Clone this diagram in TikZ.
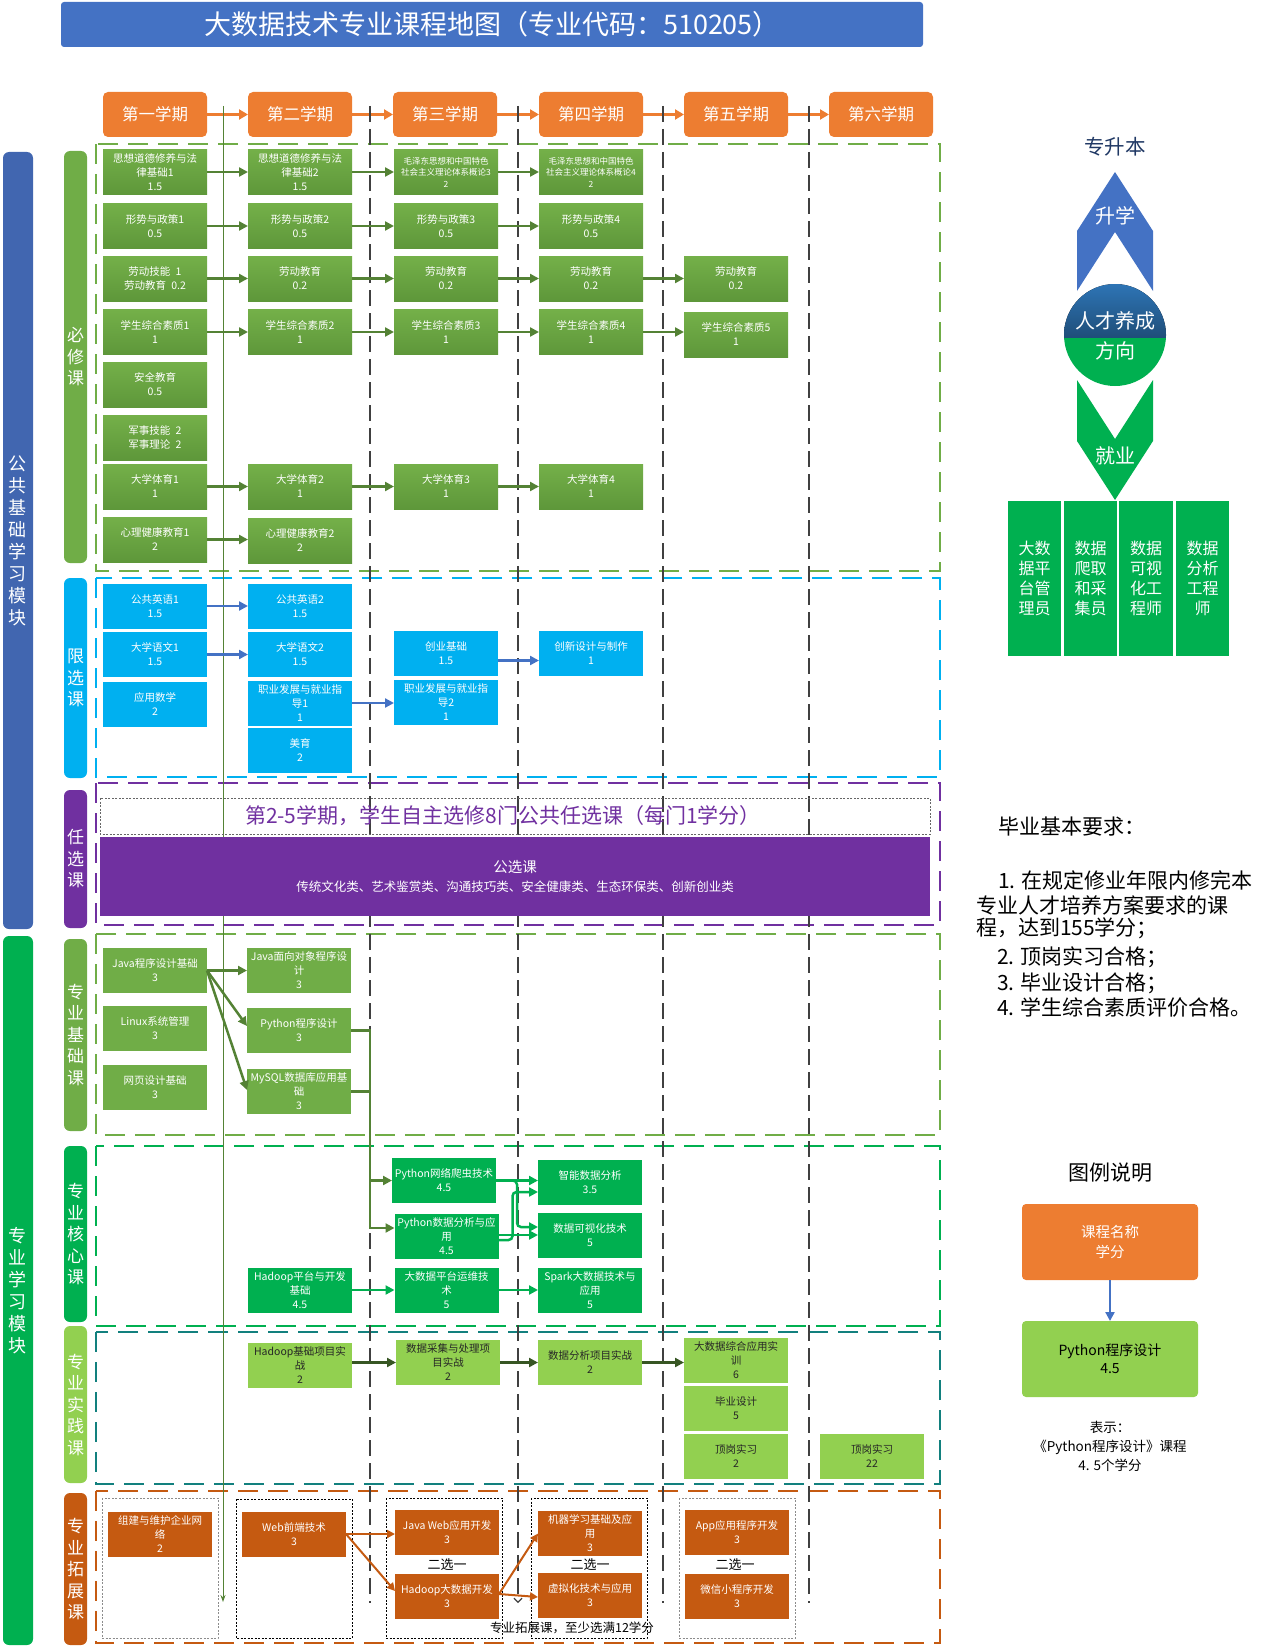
\documentclass[tikz,border=0pt]{standalone}
\usepackage{fontspec}
\setmainfont{Noto Sans CJK SC}
\usetikzlibrary{arrows.meta,calc}
\definecolor{titleB}{HTML}{4472C4}
\definecolor{semO}{HTML}{ED7D31}
\definecolor{gA}{HTML}{74B049}
\definecolor{gB}{HTML}{5E973A}
\definecolor{bxG}{HTML}{70AD47}
\definecolor{arrG}{HTML}{548235}
\definecolor{coreG}{HTML}{00B050}
\definecolor{lightG}{HTML}{92D050}
\definecolor{cyanC}{HTML}{00B0F0}
\definecolor{purpC}{HTML}{7030A0}
\definecolor{orngC}{HTML}{C55A11}
\definecolor{tealC}{HTML}{12807E}
\definecolor{modB}{HTML}{4166B0}
\definecolor{darkP}{HTML}{375623}
\definecolor{navyT}{HTML}{203864}
\definecolor{cirA}{HTML}{2E75B6}
\definecolor{cirB}{HTML}{1F4E79}
\newcommand{\fs}[2]{\fontsize{#1pt}{#2pt}\selectfont}
\begin{document}
\begin{tikzpicture}[x=1pt,y=-1pt,
  every node/.style={inner sep=0pt, outer sep=0pt},
  cbox/.style={minimum width=104pt, minimum height=45pt, align=center, text=white, font=\fs{10.5}{14}},
  gbox/.style={cbox, top color=gA, bottom color=gB},
  bbox/.style={cbox, fill=cyanC},
  fbox/.style={cbox, fill=bxG},
  kbox/.style={cbox, fill=coreG},
  pbox/.style={cbox, fill=lightG, text=black!85},
  obox/.style={cbox, fill=orngC},
  semb/.style={rounded corners=5pt, fill=semO, minimum width=104pt, minimum height=45pt, text=white, font=\fs{16.5}{18}},
  modbar/.style={rounded corners=6pt, minimum width=30pt, align=center, text=white, font=\fs{18}{22}},
  labbar/.style={rounded corners=6pt, minimum width=23pt, align=center, text=white, font=\fs{17}{21.5}},
  region/.style={line width=1.5pt, dash pattern=on 20pt off 10pt},
  vdash/.style={draw=black!75, line width=1.2pt, dash pattern=on 16pt off 7pt},
  grp/.style={line width=0.8pt, dash pattern=on 2pt off 1.5pt},
  tip/.style={-{Triangle[length=9pt,width=9pt]}},
  garr/.style={draw=arrG, line width=2.5pt, tip},
  barr/.style={draw=titleB, line width=2.5pt, tip},
  karr/.style={draw=coreG, line width=2.5pt, tip},
  parr/.style={draw=darkP, line width=3pt, tip},
  oarr/.style={draw=orngC, line width=2pt, -{Triangle[length=8pt,width=8pt]}},
  sarr/.style={draw=semO, line width=3pt, -{Triangle[length=9pt,width=10pt]}},
  plain/.style={font=\fs{13}{18}, text=black, align=center}
]
\useasboundingbox (0,0) rectangle (1269,1648);

% ---------- title ----------
\node[fill=titleB, rounded corners=3pt, minimum width=862pt, minimum height=45pt, text=white, font=\fs{27}{30}] (title) at (492,24.5) {大数据技术专业课程地图（专业代码：510205）};

% ---------- semesters ----------
\node[semb] (s1) at (155,114.5) {第一学期};
\node[semb] (s2) at (300,114.5) {第二学期};
\node[semb] (s3) at (445,114.5) {第三学期};
\node[semb] (s4) at (591,114.5) {第四学期};
\node[semb] (s5) at (736,114.5) {第五学期};
\node[semb] (s6) at (881,114.5) {第六学期};
\foreach \a/\b in {s1/s2,s2/s3,s3/s4,s4/s5,s5/s6} \draw[sarr] (\a.east) -- (\b.west);

% ---------- module bars ----------
\node[modbar, fill=modB, minimum height=777pt] (mod1) at (18,540.5) {公\\共\\基\\础\\学\\习\\模\\块};
\node[modbar, fill=coreG, minimum height=709pt] (mod2) at (18,1290.5) {专\\业\\学\\习\\模\\块};

\node[labbar, fill=bxG, minimum height=412pt] (lb1) at (75.5,357) {必\\修\\课};
\node[labbar, fill=cyanC, minimum height=200pt] (lb2) at (75.5,678) {限\\选\\课};
\node[labbar, fill=purpC, minimum height=138pt] (lb3) at (75.5,859) {任\\选\\课};
\node[labbar, fill=bxG, minimum height=192pt] (lb4) at (75.5,1035) {专\\业\\基\\础\\课};
\node[labbar, fill=coreG, minimum height=176pt] (lb5) at (75.5,1234) {专\\业\\核\\心\\课};
\node[labbar, fill=lightG, minimum height=157pt] (lb6) at (75.5,1404.5) {专\\业\\实\\践\\课};
\node[labbar, fill=orngC, minimum height=152pt] (lb7) at (75.5,1569) {专\\业\\拓\\展\\课};

% ---------- region frames ----------
\draw[region, draw=bxG] (96,144) rectangle (940,571);
\draw[region, draw=cyanC] (96,578) rectangle (940,777);
\draw[region, draw=purpC] (96,783) rectangle (940,925);
\draw[region, draw=bxG] (96,934) rectangle (940,1135);
\draw[region, draw=coreG] (96,1146) rectangle (940,1326);
\draw[region, draw=tealC] (96,1332) rectangle (940,1484);
\draw[region, draw=orngC] (96,1491) rectangle (940,1643);

% ---------- extension groups ----------
\draw[grp, draw=black!45] (102,1498) rectangle (218,1638);
\draw[grp, draw=black] (236,1499) rectangle (352,1638);
\draw[grp, draw=black] (386,1498) rectangle (502,1638);
\draw[grp, draw=black] (531,1498) rectangle (647,1638);
\draw[grp, draw=black!45] (679,1498) rectangle (795,1638);

% ---------- semester divider lines ----------
\coordinate (v1a) at (370,106); \coordinate (v1b) at (370,1603);
\coordinate (v2a) at (518,106); \coordinate (v2b) at (518,1603);
\coordinate (v3a) at (663,106); \coordinate (v3b) at (663,1603);
\coordinate (v4a) at (809,106); \coordinate (v4b) at (809,1603);
\draw[vdash] (v1a) -- (v1b);
\draw[vdash, -{Straight Barb[length=4pt,width=8pt]}] (v2a) -- (v2b);
\draw[vdash] (v3a) -- (v3b);
\draw[vdash] (v4a) -- (v4b);
\coordinate (ga) at (223,106); \coordinate (gb) at (223,1602);
\draw[draw=arrG, line width=1pt, -{Stealth[length=7pt,width=5pt]}] (ga) -- (gb);

% ---------- 任选 ----------
\draw[grp, draw=black!60] (100,798) rectangle (930,834);
\node[text=purpC, font=\fs{21}{24}] (rxhead) at (503,816) {第2-5学期，学生自主选修8门公共任选课（每门1学分）};
\node[fill=purpC, minimum width=830pt, minimum height=79pt, text=white, align=center, font=\fs{12.5}{19}] (gx) at (515,876.5) {{\fs{14.5}{19}公选课}\\传统文化类、艺术鉴赏类、沟通技巧类、安全健康类、生态环保类、创新创业类};

% ---------- 必修 ----------
\node[gbox] (a11) at (155,172) {思想道德修养与法\\律基础1\\1.5};
\node[gbox] (a12) at (300,172) {思想道德修养与法\\律基础2\\1.5};
\node[gbox, font=\fs{8.5}{11.5}] (a13) at (446,172) {毛泽东思想和中国特色\\社会主义理论体系概论3\\2};
\node[gbox, font=\fs{8.5}{11.5}] (a14) at (591,172) {毛泽东思想和中国特色\\社会主义理论体系概论4\\2};
\node[gbox] (a21) at (155,226) {形势与政策1\\0.5};
\node[gbox] (a22) at (300,226) {形势与政策2\\0.5};
\node[gbox] (a23) at (446,226) {形势与政策3\\0.5};
\node[gbox] (a24) at (591,226) {形势与政策4\\0.5};
\node[gbox] (a31) at (155,278.5) {劳动技能\enspace 1\\劳动教育\enspace 0.2};
\node[gbox] (a32) at (300,278.5) {劳动教育\\0.2};
\node[gbox] (a33) at (446,278.5) {劳动教育\\0.2};
\node[gbox] (a34) at (591,278.5) {劳动教育\\0.2};
\node[gbox] (a35) at (736,278.5) {劳动教育\\0.2};
\node[gbox] (a41) at (155,332) {学生综合素质1\\1};
\node[gbox] (a42) at (300,332) {学生综合素质2\\1};
\node[gbox] (a43) at (446,332) {学生综合素质3\\1};
\node[gbox] (a44) at (591,332) {学生综合素质4\\1};
\node[gbox] (a45) at (736,334.5) {学生综合素质5\\1};
\node[gbox] (a5) at (155,384.5) {安全教育\\0.5};
\node[gbox] (a6) at (155,437.5) {军事技能\enspace 2\\军事理论\enspace 2};
\node[gbox] (a71) at (155,486.5) {大学体育1\\1};
\node[gbox] (a72) at (300,486.5) {大学体育2\\1};
\node[gbox] (a73) at (446,486.5) {大学体育3\\1};
\node[gbox] (a74) at (591,486.5) {大学体育4\\1};
\node[gbox] (a81) at (155,539.5) {心理健康教育1\\2};
\node[gbox] (a82) at (300,540.5) {心理健康教育2\\2};
\foreach \a/\b in {a11/a12,a12/a13,a13/a14,a21/a22,a22/a23,a23/a24,a31/a32,a32/a33,a33/a34,a34/a35,a41/a42,a42/a43,a43/a44,a44/a45,a71/a72,a72/a73,a73/a74,a81/a82}
  \draw[garr] (\a.east) -- (\a.east -| \b.west);

% ---------- 限选 ----------
\node[bbox] (x1) at (155,606) {公共英语1\\1.5};
\node[bbox] (x2) at (155,654.5) {大学语文1\\1.5};
\node[bbox] (x3) at (155,704) {应用数学\\2};
\node[bbox] (y1) at (300,606) {公共英语2\\1.5};
\node[bbox] (y2) at (300,654.5) {大学语文2\\1.5};
\node[bbox] (y3) at (300,703) {职业发展与就业指\\导1\\1};
\node[bbox] (y4) at (300,750.5) {美育\\2};
\node[bbox] (z1) at (446,653.5) {创业基础\\1.5};
\node[bbox] (z2) at (446,702) {职业发展与就业指\\导2\\1};
\node[bbox] (w1) at (591,653.5) {创新设计与制作\\1};
\draw[barr] (x1.east) -- (y1.west);
\draw[barr] (x2.east) -- (y2.west);
\draw[barr] (y3.east) -- (y3.east -| z2.west);
\draw[barr] ([yshift=-7pt]z1.east) -- ([yshift=-7pt]w1.west);

% ---------- 专业基础 ----------
\node[fbox] (j1) at (155,970.5) {Java程序设计基础\\3};
\node[fbox] (j2) at (155,1028) {Linux系统管理\\3};
\node[fbox] (j3) at (155,1087.5) {网页设计基础\\3};
\node[fbox] (k1) at (299,970.5) {Java面向对象程序设\\计\\3};
\node[fbox] (py) at (299,1030.5) {Python程序设计\\3};
\node[fbox] (my) at (299,1091.5) {MySQL数据库应用基\\础\\3};
\draw[garr] (j1.east) -- (k1.west);
\draw[garr] (j1.east) -- ([yshift=4.5pt]py.west);
\draw[garr] (j1.east) -- ([yshift=1.5pt]my.west);

% ---------- 专业核心 ----------
\node[kbox] (sp) at (444,1180.5) {Python网络爬虫技术\\4.5};
\node[kbox] (pda) at (446.5,1236.5) {Python数据分析与应\\用\\4.5};
\node[kbox] (sm) at (590,1182) {智能数据分析\\3.5};
\node[kbox] (vis) at (590,1235.5) {数据可视化技术\\5};
\node[kbox] (hp) at (300,1290) {Hadoop平台与开发\\基础\\4.5};
\node[kbox] (ops) at (446.5,1290) {大数据平台运维技\\术\\5};
\node[kbox] (spk) at (590,1290) {Spark大数据技术与\\应用\\5};
\draw[garr] (py.east) -- ++(19,0) |- (sp.west);
\draw[garr] (py.east) -- ++(19,0) |- ([yshift=8.5pt]pda.west);
\draw[draw=arrG, line width=2.5pt] (my.east) -- ++(19,0);
\draw[karr] (sp.east) -- (sp.east -| sm.west);
\draw[karr, rounded corners=4pt] (sp.east) -- ++(21,0) |- ([yshift=8.5pt]vis.west);
\draw[karr, rounded corners=4pt] ([yshift=-3.5pt]pda.east) -- ++(14,0) |- ([yshift=-10pt]sm.west);
\draw[karr] ([yshift=1.5pt]pda.east) -- ([yshift=1.5pt]pda.east -| vis.west);
\draw[karr] (hp.east) -- (ops.west);
\draw[karr] (ops.east) -- (spk.west);

% ---------- 专业实践 ----------
\node[pbox] (hpj) at (300,1365) {Hadoop基础项目实\\战\\2};
\node[pbox] (col) at (448,1362.5) {数据采集与处理项\\目实战\\2};
\node[pbox] (ana) at (590,1362.5) {数据分析项目实战\\2};
\node[pbox] (cmp) at (736,1360.5) {大数据综合应用实\\训\\6};
\node[pbox] (grd) at (736,1408.5) {毕业设计\\5};
\node[pbox] (in5) at (736,1456.5) {顶岗实习\\2};
\node[pbox] (in6) at (872,1456.5) {顶岗实习\\22};
\draw[parr] (hpj.east |- col.west) -- (col.west);
\draw[parr] (col.east) -- (ana.west);
\draw[parr] (ana.east) -- (ana.east -| cmp.west);

% ---------- 专业拓展 ----------
\node[obox] (net) at (160,1534) {组建与维护企业网\\络\\2};
\node[obox] (web) at (294,1534) {Web前端技术\\3};
\node[obox] (jw) at (447,1532.5) {Java Web应用开发\\3};
\node[obox] (hd) at (447,1596.5) {Hadoop大数据开发\\3};
\node[obox] (ml) at (590,1533.5) {机器学习基础及应\\用\\3};
\node[obox] (vt) at (590,1595.5) {虚拟化技术与应用\\3};
\node[obox] (app) at (737,1532.5) {App应用程序开发\\3};
\node[obox] (wx) at (737,1596.5) {微信小程序开发\\3};
\node[plain] (e1) at (447,1565) {二选一};
\node[plain] (e2) at (590,1565) {二选一};
\node[plain] (e3) at (735,1565) {二选一};
\node[plain, font=\fs{12.5}{16}] (extnote) at (572,1628) {专业拓展课，至少选满12学分};
\draw[oarr] (web.east) -- (web.east -| jw.west);
\draw[oarr] (web.east) -- ([yshift=5.5pt]hd.west);
\draw[oarr] ([yshift=2.5pt]hd.east) -- (ml.west);
\draw[oarr] ([yshift=2.5pt]hd.east) -- ([yshift=-1.5pt]vt.west);

% ---------- career direction ----------
\node[text=navyT, font=\fs{20.5}{22}] (zsb) at (1115,147) {专升本};
\fill[titleB] (1115,172) -- (1153,231) -- (1153,291) -- (1115,232) -- (1077,291) -- (1077,231) -- cycle;
\node[text=white, font=\fs{20}{22}] (sx) at (1115,216) {升学};
\fill[coreG] (1077,380) -- (1115,439) -- (1153,380) -- (1153,441) -- (1115,500) -- (1077,441) -- cycle;
\node[text=white, font=\fs{20}{22}] (jy) at (1115,456) {就业};
\begin{scope}
  \clip (1115,335) circle (51);
  \fill[top color=cirA, bottom color=cirB] (1060,283) rectangle (1170,338);
  \fill[coreG] (1060,338) rectangle (1170,388);
\end{scope}
\node[text=white, font=\fs{20}{22}] (rc1) at (1115,321) {人才养成};
\node[text=white, font=\fs{20}{22}] (rc2) at (1115,351) {方向};
\tikzset{jobb/.style={fill=coreG, minimum height=155pt, align=center, text=white, font=\fs{16}{20}}}
\node[jobb, minimum width=53pt] (jb1) at (1034.5,578.5) {大数\\据平\\台管\\理员};
\node[jobb, minimum width=53pt] (jb2) at (1090.5,578.5) {数据\\爬取\\和采\\集员};
\node[jobb, minimum width=54pt] (jb3) at (1146,578.5) {数据\\可视\\化工\\程师};
\node[jobb, minimum width=53pt] (jb4) at (1202.5,578.5) {数据\\分析\\工程\\师};

% ---------- graduation requirements ----------
\tikzset{req/.style={anchor=base west, font=\fs{21}{25}, text=black}}
\node[req] (r0) at (998,834) {毕业基本要求：};
\node[req] (r1) at (998,888) {1. 在规定修业年限内修完本};
\node[req] (r2) at (976,913) {专业人才培养方案要求的课};
\node[req] (r3) at (976,935) {程，达到155学分；};
\node[req] (r4) at (997,964) {2. 顶岗实习合格；};
\node[req] (r5) at (997,990) {3. 毕业设计合格；};
\node[req] (r6) at (997,1015) {4. 学生综合素质评价合格。};

% ---------- legend ----------
\node[text=black, font=\fs{21}{24}] (lgt) at (1110,1173) {图例说明};
\node[fill=semO, rounded corners=4pt, minimum width=176pt, minimum height=76pt, align=center, text=white, font=\fs{14.5}{20}] (lg1) at (1110,1242) {课程名称\\学分};
\node[fill=lightG, rounded corners=4pt, minimum width=176pt, minimum height=76pt, align=center, text=black, font=\fs{14}{18}] (lg2) at (1110,1359) {Python程序设计\\4.5};
\draw[barr] (lg1.south) -- (lg2.north);
\node[plain, font=\fs{13.5}{19}] (lgn) at (1110,1446) {表示：\\《Python程序设计》课程\\4. 5个学分};
\end{tikzpicture}
\end{document}
